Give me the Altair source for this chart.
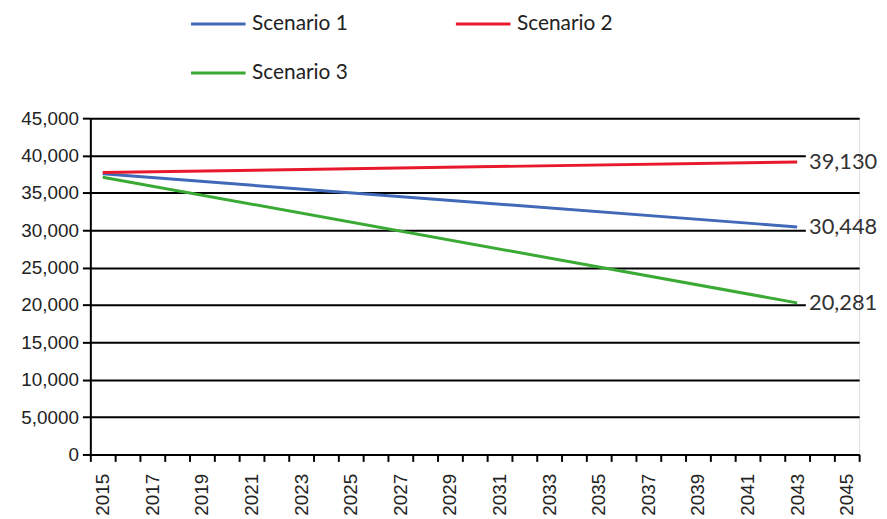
import altair as alt
import pandas as pd

# ---- data ----
years = [2015, 2043]
scenario_1 = [37550, 30448]
scenario_2 = [37730, 39130]
scenario_3 = [37100, 20281]
series = ["Scenario 1", "Scenario 2", "Scenario 3"]
colors = ["#4169b8", "#e8192c", "#3aaa35"]
end_labels = ["30,448", "39,130", "20,281"]
y_ticks = list(range(0, 45001, 5000))
first_year, last_year = 2015, 2045

rows = []
for name, vals in zip(series, [scenario_1, scenario_2, scenario_3]):
    for yr, v in zip(years, vals):
        rows.append({"year": yr, "value": v, "series": name})
df = pd.DataFrame(rows)

lab = pd.DataFrame({
    "series": series,
    "year": [years[-1]] * 3,
    "value": [scenario_1[-1], scenario_2[-1], scenario_3[-1]],
    "label": end_labels,
})

LABEL_FONT = "Lato"

x_lo, x_hi = first_year - 0.5, last_year + 0.5
tick_values = [x_lo + i for i in range(last_year - first_year + 2)]

x_scale = alt.Scale(domain=[x_lo, x_hi], nice=False, zero=False)
y_scale = alt.Scale(domain=[0, 45000], nice=False)

x_axis = alt.Axis(
    values=tick_values, title=None, grid=False,
    labelAngle=-90, labelAlign="right", labelBaseline="middle",
    labelOffset=12.5, labelFlush=False, labelOverlap=False, labelBound=False,
    labelExpr=f"((datum.value + 0.5) % 2 == 1 && datum.value < {x_hi}) ? format(datum.value + 0.5, 'd') : ''",
    tickSize=7, tickWidth=2, tickColor="black",
    domainColor="black", domainWidth=2,
    labelFont="Liberation Sans", labelFontSize=19, labelColor="#222", labelPadding=12,
)
y_axis = alt.Axis(
    values=y_ticks, title=None, grid=True, gridColor="black", gridWidth=2,
    labelExpr="datum.value == 5000 ? '5,0000' : format(datum.value, ',')",
    tickSize=8, tickWidth=2, tickColor="black",
    domainColor="black", domainWidth=2,
    labelFont="Liberation Sans", labelFontSize=19, labelColor="#222", labelPadding=4,
)

boxes = alt.Chart(lab).transform_calculate(
    x1="datum.year + 0.35", x2=str(x_hi),
    y1="datum.value - 1100", y2="datum.value + 1100",
).mark_rect(color="white").encode(
    x=alt.X("x1:Q", scale=x_scale, axis=x_axis),
    x2="x2:Q",
    y=alt.Y("y1:Q", scale=y_scale, axis=y_axis),
    y2="y2:Q",
)

lines = alt.Chart(df).mark_line(strokeWidth=3).encode(
    x=alt.X("year:Q", scale=x_scale, axis=x_axis),
    y=alt.Y("value:Q", scale=y_scale, axis=y_axis),
    color=alt.Color(
        "series:N",
        scale=alt.Scale(domain=series, range=colors),
        legend=alt.Legend(
            title=None, orient="none", legendX=100, legendY=-124,
            columns=2, direction="horizontal", gridAlign="each",
            symbolType="stroke", symbolSize=3025, symbolStrokeWidth=3,
            labelFont=LABEL_FONT, labelFontSize=21, labelColor="#222", labelOffset=5,
            columnPadding=102, rowPadding=10.5,
        ),
    ),
)

text = alt.Chart(lab).mark_text(
    align="left", baseline="middle", dx=12, font=LABEL_FONT, fontSize=22, color="#333"
).encode(
    x=alt.X("year:Q", scale=x_scale, axis=x_axis),
    y=alt.Y("value:Q", scale=y_scale, axis=y_axis),
    text="label:N",
)

chart = alt.layer(boxes, lines, text).properties(
    width=775, height=339,
    autosize=alt.AutoSizeParams(type="none"),
    padding={"left": 83, "top": 109, "right": 20, "bottom": 60},
).configure_view(stroke=None).configure(background="white")

chart.save("out.html", embed_options={"renderer": "svg", "actions": False})
